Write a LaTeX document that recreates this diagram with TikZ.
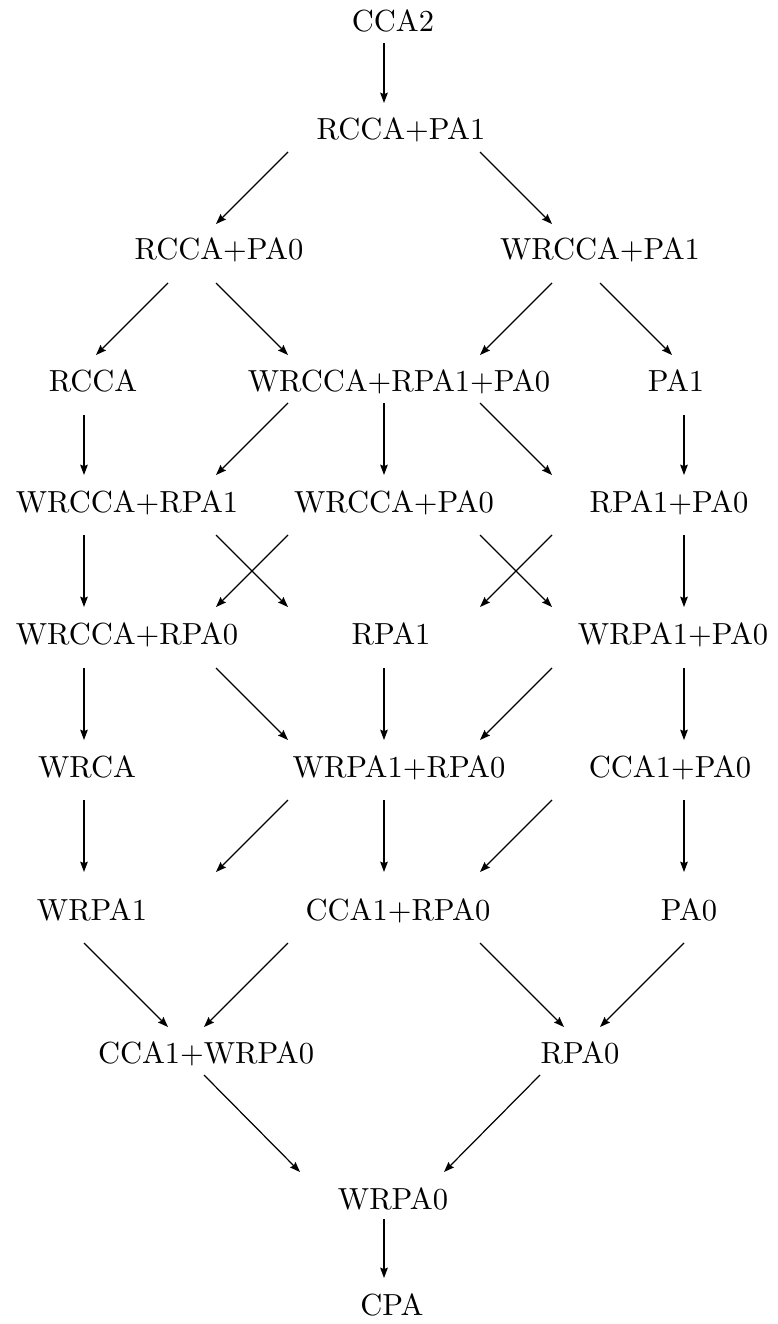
\documentclass[tikz,border=0pt]{standalone}
\usetikzlibrary{arrows.meta,calc}
\tikzset{
  lbl/.style={inner sep=0pt, outer sep=0pt, anchor=base},
  arr/.style={line width=0.4pt, -{Stealth[length=3.4pt,width=2.5pt,inset=0.5pt]}}
}
\begin{document}
\begin{tikzpicture}[x=0.328pt, y=-0.328pt]
\useasboundingbox (0,0) rectangle (777,1324);
% nodes (base positions)
\node[lbl] (cca2)        at (393,32)   {CCA2};
\node[lbl] (rccapa1)     at (401,140)  {RCCA+PA1};
\node[lbl] (rccapa0)     at (219,260)  {RCCA+PA0};
\node[lbl] (wrccapa1)    at (600,260)  {WRCCA+PA1};
\node[lbl] (rcca)        at (93,392)   {RCCA};
\node[lbl] (wrccarpa1pa0) at (399,392) {WRCCA+RPA1+PA0};
\node[lbl] (pa1)         at (676,392)  {PA1};
\node[lbl] (wrccarpa1)   at (127,512)  {WRCCA+RPA1};
\node[lbl] (wrccapa0)    at (394,512)  {WRCCA+PA0};
\node[lbl] (rpa1pa0)     at (669,512)  {RPA1+PA0};
\node[lbl] (wrccarpa0)   at (127,644)  {WRCCA+RPA0};
\node[lbl] (rpa1)        at (391,644)  {RPA1};
\node[lbl] (wrpa1pa0)    at (673,644)  {WRPA1+PA0};
\node[lbl] (wrca)        at (87,777)   {WRCA};
\node[lbl] (wrpa1rpa0)   at (399,777)  {WRPA1+RPA0};
\node[lbl] (cca1pa0)     at (670,777)  {CCA1+PA0};
\node[lbl] (wrpa1)       at (92,920)   {WRPA1};
\node[lbl] (cca1rpa0)    at (398,920)  {CCA1+RPA0};
\node[lbl] (pa0)         at (689,920)  {PA0};
\node[lbl] (cca1wrpa0)   at (206,1063) {CCA1+WRPA0};
\node[lbl] (rpa0)        at (580,1063) {RPA0};
\node[lbl] (wrpa0)       at (393,1209) {WRPA0};
\node[lbl] (cpa)         at (392,1315) {CPA};
% connectors
\draw[arr] ($(cca2.base)+(-9,11)$) -- ($(rccapa1.base)+(-17,-37)$);
\draw[arr] ($(rccapa1.base)+(-113,12)$) -- ($(rccapa0.base)+(-3,-36)$);
\draw[arr] ($(rccapa1.base)+(79,12)$) -- ($(wrccapa1.base)+(-48,-36)$);
\draw[arr] ($(rccapa0.base)+(-51,23)$) -- ($(rcca.base)+(3,-37)$);
\draw[arr] ($(rccapa0.base)+(-3,23)$) -- ($(wrccarpa1pa0.base)+(-111,-37)$);
\draw[arr] ($(wrccapa1.base)+(-48,23)$) -- ($(wrccarpa1pa0.base)+(81,-37)$);
\draw[arr] ($(wrccapa1.base)+(0,23)$) -- ($(pa1.base)+(-4,-37)$);
\draw[arr] ($(rcca.base)+(-9,23)$) -- ($(wrccarpa1.base)+(-43,-37)$);
\draw[arr] ($(wrccarpa1pa0.base)+(-111,11)$) -- ($(wrccarpa1.base)+(89,-37)$);
\draw[arr] ($(wrccarpa1pa0.base)+(-15,11)$) -- ($(wrccapa0.base)+(-10,-37)$);
\draw[arr] ($(wrccarpa1pa0.base)+(81,11)$) -- ($(rpa1pa0.base)+(-117,-37)$);
\draw[arr] ($(pa1.base)+(8,23)$) -- ($(rpa1pa0.base)+(15,-37)$);
\draw[arr] ($(wrccarpa1.base)+(-43,23)$) -- ($(wrccarpa0.base)+(-43,-37)$);
\draw[arr] ($(wrccarpa1.base)+(89,23)$) -- ($(rpa1.base)+(-103,-37)$);
\draw[arr] ($(wrccapa0.base)+(-106,23)$) -- ($(wrccarpa0.base)+(89,-37)$);
\draw[arr] ($(wrccapa0.base)+(86,23)$) -- ($(wrpa1pa0.base)+(-121,-37)$);
\draw[arr] ($(rpa1pa0.base)+(-117,23)$) -- ($(rpa1.base)+(89,-37)$);
\draw[arr] ($(rpa1pa0.base)+(15,23)$) -- ($(wrpa1pa0.base)+(11,-37)$);
\draw[arr] ($(wrccarpa0.base)+(-43,24)$) -- ($(wrca.base)+(-3,-37)$);
\draw[arr] ($(wrccarpa0.base)+(89,24)$) -- ($(wrpa1rpa0.base)+(-111,-37)$);
\draw[arr] ($(rpa1.base)+(-7,24)$) -- ($(wrpa1rpa0.base)+(-15,-37)$);
\draw[arr] ($(wrpa1pa0.base)+(-121,24)$) -- ($(wrpa1rpa0.base)+(81,-37)$);
\draw[arr] ($(wrpa1pa0.base)+(11,24)$) -- ($(cca1pa0.base)+(14,-37)$);
\draw[arr] ($(wrca.base)+(-3,23)$) -- ($(wrpa1.base)+(-8,-48)$);
\draw[arr] ($(wrpa1rpa0.base)+(-111,23)$) -- ($(wrpa1.base)+(124,-48)$);
\draw[arr] ($(wrpa1rpa0.base)+(-15,23)$) -- ($(cca1rpa0.base)+(-14,-48)$);
\draw[arr] ($(cca1pa0.base)+(-118,23)$) -- ($(cca1rpa0.base)+(82,-48)$);
\draw[arr] ($(cca1pa0.base)+(14,23)$) -- ($(pa0.base)+(-5,-48)$);
\draw[arr] ($(wrpa1.base)+(-8,23)$) -- ($(cca1wrpa0.base)+(-38,-36)$);
\draw[arr] ($(cca1rpa0.base)+(-110,23)$) -- ($(cca1wrpa0.base)+(-2,-36)$);
\draw[arr] ($(cca1rpa0.base)+(82,23)$) -- ($(rpa0.base)+(-16,-36)$);
\draw[arr] ($(pa0.base)+(-5,23)$) -- ($(rpa0.base)+(20,-36)$);
\draw[arr] ($(cca1wrpa0.base)+(-2,12)$) -- ($(wrpa0.base)+(-93,-37)$);
\draw[arr] ($(rpa0.base)+(-40,12)$) -- ($(wrpa0.base)+(51,-37)$);
\draw[arr] ($(wrpa0.base)+(-9,10)$) -- ($(cpa.base)+(-8,-37)$);
\end{tikzpicture}
\end{document}
